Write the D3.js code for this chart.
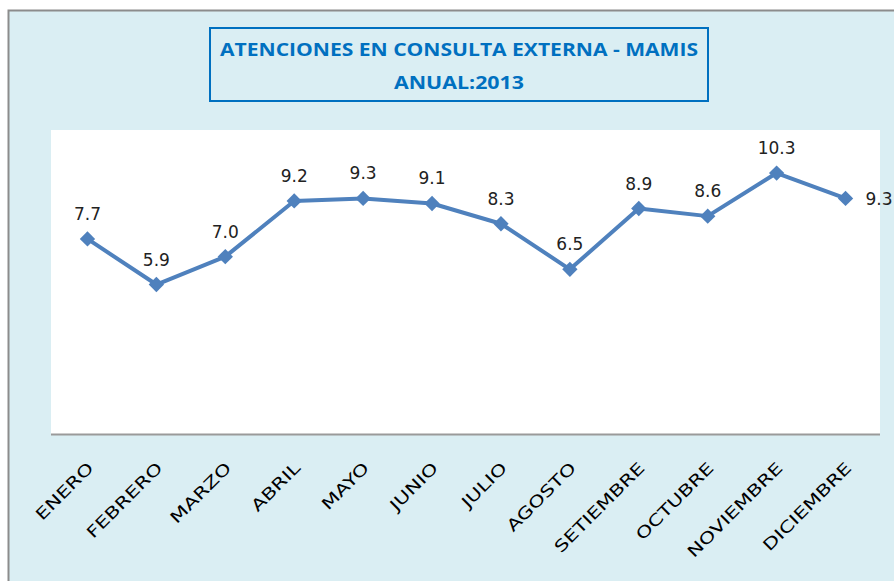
<!DOCTYPE html>
<html><head><meta charset="utf-8">
<script src="https://cdn.jsdelivr.net/npm/d3@7"></script>
<style>body{margin:0;background:#fff}svg{display:block}</style>
</head><body>
<script>
const months = ["ENERO","FEBRERO","MARZO","ABRIL","MAYO","JUNIO","JULIO","AGOSTO","SETIEMBRE","OCTUBRE","NOVIEMBRE","DICIEMBRE"];
const values = [7.7,5.9,7.0,9.2,9.3,9.1,8.3,6.5,8.9,8.6,10.3,9.3];
const titleLines = ["ATENCIONES EN CONSULTA EXTERNA - MAMIS","ANUAL:2013"];

const W=894,H=581;
const svg=d3.select("body").append("svg").attr("width",W).attr("height",H);
svg.append("rect").attr("x",0).attr("y",0).attr("width",W).attr("height",H).attr("fill","#fff");
svg.append("rect").attr("x",8.5).attr("y",10.5).attr("width",W).attr("height",H).attr("fill","#DAEEF3").attr("stroke","#8c8c8c").attr("stroke-width",2);

// title box
svg.append("rect").attr("x",210).attr("y",28).attr("width",498).attr("height",73).attr("fill","#DAEEF3").attr("stroke","#0070C0").attr("stroke-width",2);
svg.append("text").attr("x",459).attr("y",56).attr("text-anchor","middle").attr("font-family","Open Sans").attr("font-weight","bold").attr("font-size",17).attr("fill","#0070C0").attr("textLength",478).attr("lengthAdjust","spacingAndGlyphs").text(titleLines[0]);
svg.append("text").attr("x",459).attr("y",89).attr("text-anchor","middle").attr("font-family","Open Sans").attr("font-weight","bold").attr("font-size",17).attr("fill","#0070C0").attr("textLength",130).attr("lengthAdjust","spacingAndGlyphs").text(titleLines[1]);

const L=53,R=880,T=130,B=434;
svg.append("rect").attr("x",L-2).attr("y",T).attr("width",R-L+2).attr("height",B-T).attr("fill","#fff");

const x=d3.scaleBand().domain(months).range([L,R]);
const y=d3.scaleLinear().domain([0,12]).range([B,T]);

svg.append("line").attr("x1",L-2).attr("x2",R).attr("y1",B+0.5).attr("y2",B+0.5).attr("stroke","#9a9a9a").attr("stroke-width",2);

const cx=d=>x(d)+x.bandwidth()/2;
const line=d3.line().x((d,i)=>cx(months[i])).y(d=>y(d));
svg.append("path").datum(values).attr("d",line).attr("fill","none").attr("stroke","#4F81BD").attr("stroke-width",4).attr("stroke-linejoin","round");

const sym=d3.symbol().type(d3.symbolDiamond2).size(150);
svg.selectAll(".m").data(values).enter().append("path")
 .attr("transform",(d,i)=>`translate(${cx(months[i])},${y(d)})`)
 .attr("d",sym).attr("fill","#4F81BD");

svg.selectAll(".v").data(values).enter().append("text")
 .attr("x",(d,i)=>i===11?cx(months[i])+20:cx(months[i]))
 .attr("y",(d,i)=>i===11?y(d)+7:y(d)-19)
 .attr("text-anchor",(d,i)=>i===11?"start":"middle")
 .attr("font-family","DejaVu Sans").attr("font-size",17).attr("fill","#222")
 .text(d=>d.toFixed(1));

const ax=svg.append("g").attr("transform",`translate(0,${B})`)
 .call(d3.axisBottom(x).tickSize(0).tickPadding(0));
ax.select(".domain").remove();
ax.selectAll("text").attr("font-family","DejaVu Sans").attr("font-size",16).attr("fill","#000")
 .attr("text-anchor","end").attr("dy",0)
 .attr("transform","translate(7,35) rotate(-45) scale(1.32,1)");
</script>
</body></html>
